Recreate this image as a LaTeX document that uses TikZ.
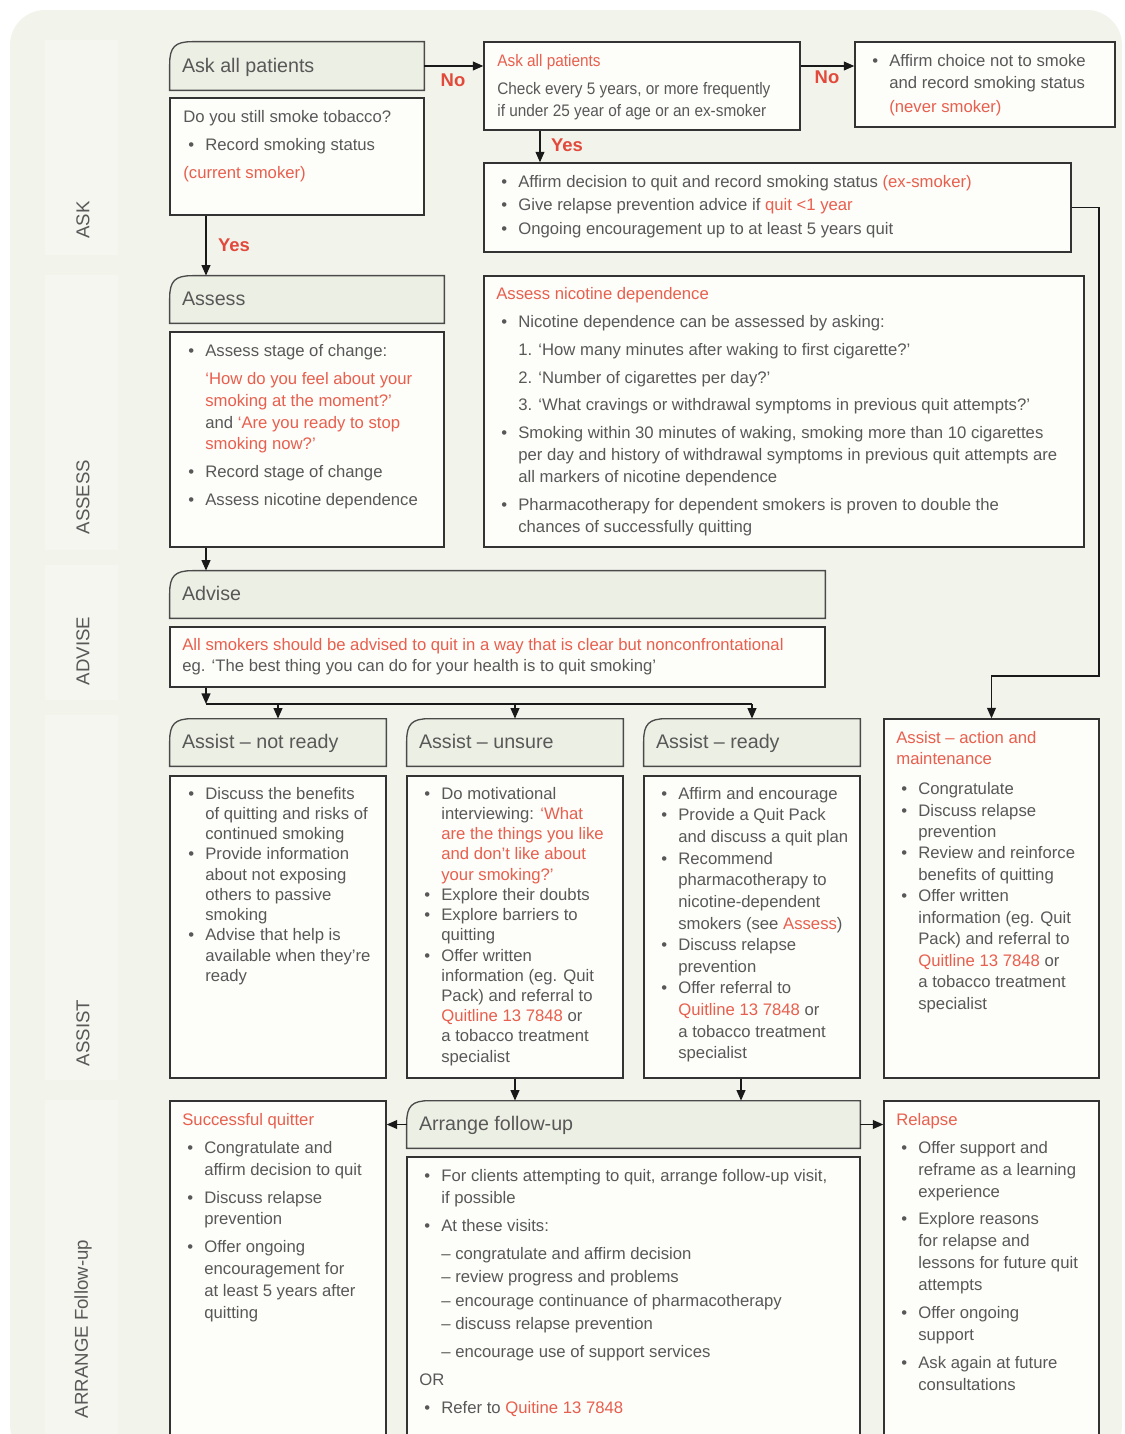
\documentclass[tikz,border=0pt]{standalone}
\usepackage{fontspec}
\setmainfont{Liberation Sans}
\newfontfamily\narrowf{Liberation Sans}[FakeStretch=0.92]
\usetikzlibrary{arrows.meta,fit,calc}

\definecolor{bg}{HTML}{F2F4EC}
\definecolor{band}{HTML}{F4F6EF}
\definecolor{hdrfill}{HTML}{ECEFE3}
\definecolor{boxfill}{HTML}{FDFDF9}
\definecolor{txt}{HTML}{585858}
\definecolor{rd}{HTML}{E85F4E}
\definecolor{rdb}{HTML}{E2493A}
\definecolor{edge}{HTML}{333333}
\definecolor{hedge}{HTML}{4A4A4A}

\newcommand\redt[1]{\textcolor{rd}{#1}}
\newcommand\bulx{\hspace*{0.1cm}\makebox[0.34cm][l]{\textbullet}}
\newcommand\indx{\hspace*{0.44cm}}
\newcommand\firstl{\rule{0pt}{0.34cm}}
\newcommand\hdrshape[1]{%
  \path[hdrdraw] (#1.south west) -- ([yshift=-13pt]#1.north west)
    .. controls ([yshift=-3pt]#1.north west) and ([xshift=3pt]#1.north west) .. ([xshift=13pt]#1.north west)
    -- (#1.north east) -- (#1.south east) -- cycle;}

\begin{document}
\begin{tikzpicture}[x=0.02cm,y=-0.02cm,
  bodybox/.style={draw=edge,fill=boxfill,line width=0.75pt,inner sep=0pt},
  hdrnode/.style={inner sep=0pt},
  hdrdraw/.style={draw=hedge,fill=hdrfill,line width=0.75pt},
  hdrtxt/.style={anchor=base west,inner sep=0pt,text=txt,font=\fontsize{11.2}{13}\selectfont},
  tx/.style={anchor=north west,inner sep=0pt,align=left,text=txt,font=\fontsize{9.5}{12.47}\selectfont},
  txs/.style={anchor=north west,inner sep=0pt,align=left,text=txt,font=\fontsize{9.5}{11.5}\selectfont},
  seclab/.style={rotate=90,text=txt,font=\fontsize{10.6}{12}\selectfont,inner sep=0pt},
  yn/.style={text=rdb,font=\bfseries\fontsize{10.5}{12}\selectfont,inner sep=0pt},
  arr/.style={-{Triangle[length=6pt,width=5pt]},line width=0.9pt,draw=black!90},
  ln/.style={line width=0.9pt,draw=black!90}]

\useasboundingbox (0,0) rectangle (1125,1434);
\clip (0,0) rectangle (1125,1434);
\fill[white] (0,0) rectangle (1125,1434);
\fill[bg,rounded corners=20pt] (10,10) rectangle (1122,1460);

% section bands and labels
\fill[band] (45,40) rectangle (118,255);
\fill[band] (45,275) rectangle (118,550);
\fill[band] (45,565) rectangle (118,700);
\fill[band] (45,715) rectangle (118,1080);
\fill[band] (45,1100) rectangle (118,1440);
\node[seclab] (sASK) at (83,220) {ASK};
\node[seclab] (sASSESS) at (83,497) {ASSESS};
\node[seclab] (sADVISE) at (83,651) {ADVISE};
\node[seclab] (sASSIST) at (83,1033) {ASSIST};
\node[seclab] (sARR) at (83,1329) {ARRANGE Follow-up};

% ---------- boxes ----------
\node[hdrnode,fit={(170,42) (424,90)}] (askhdr) {}; \hdrshape{askhdr}
\node[bodybox,fit={(170,98) (424,215)}] (askbody) {};
\node[bodybox,fit={(484,42) (800,130)}] (ask2) {};
\node[bodybox,fit={(855,42) (1115,127)}] (never) {};
\node[bodybox,fit={(484,163) (1071,252)}] (exsm) {};
\node[hdrnode,fit={(170,276) (444,323)}] (asshdr) {}; \hdrshape{asshdr}
\node[bodybox,fit={(170,332) (444,547)}] (assbody) {};
\node[bodybox,fit={(484,276) (1084,547)}] (nic) {};
\node[hdrnode,fit={(170,571) (825,618)}] (advhdr) {}; \hdrshape{advhdr}
\node[bodybox,fit={(170,627) (825,687)}] (advbody) {};
\node[hdrnode,fit={(170,719) (386,766)}] (nrhdr) {}; \hdrshape{nrhdr}
\node[bodybox,fit={(170,776) (386,1078)}] (nrbody) {};
\node[hdrnode,fit={(407,719) (623,766)}] (unhdr) {}; \hdrshape{unhdr}
\node[bodybox,fit={(407,776) (623,1078)}] (unbody) {};
\node[hdrnode,fit={(644,719) (860,766)}] (rdhdr) {}; \hdrshape{rdhdr}
\node[bodybox,fit={(644,776) (860,1078)}] (rdbody) {};
\node[bodybox,fit={(884,719) (1099,1078)}] (act) {};
\node[hdrnode,fit={(407,1101) (860,1148)}] (arrhdr) {}; \hdrshape{arrhdr}
\node[bodybox,fit={(407,1157) (860,1460)}] (arrbody) {};
\node[bodybox,fit={(170,1101) (386,1460)}] (succ) {};
\node[bodybox,fit={(884,1101) (1099,1460)}] (rel) {};

% ---------- header texts ----------
\node[hdrtxt] (tAskH) at ($(askhdr.west)+(12,6)$) {Ask all patients};
\node[hdrtxt] (tAssH) at ($(asshdr.west)+(12,6)$) {Assess};
\node[hdrtxt] (tAdvH) at ($(advhdr.west)+(12,6)$) {Advise};
\node[hdrtxt] (tNrH) at ($(nrhdr.west)+(12,6)$) {Assist – not ready};
\node[hdrtxt] (tUnH) at ($(unhdr.west)+(12,6)$) {Assist – unsure};
\node[hdrtxt] (tRdH) at ($(rdhdr.west)+(12,6)$) {Assist – ready};
\node[hdrtxt] (tArrH) at ($(arrhdr.west)+(12,6)$) {Arrange follow-up};

% ---------- body texts ----------
\node[tx] (tAsk) at (183,105) {\firstl Do you still smoke tobacco?\\[3.4pt]
\bulx Record smoking status\\[3.4pt]
\redt{(current smoker)}};

\node[tx,font=\narrowf\fontsize{9.5}{12.47}\selectfont] (tAsk2) at (497,49) {\firstl\redt{Ask all patients}\\[3.4pt]
Check every 5 years, or more frequently\\
if under 25 year of age or an ex-smoker};

\node[tx] (tNever) at (867,49) {\firstl\bulx Affirm choice not to smoke\\
\indx and record smoking status\\[1.1pt]
\indx\redt{(never smoker)}};

\node[tx,font=\fontsize{9.5}{13.3}\selectfont] (tEx) at (496,170) {\firstl\bulx Affirm decision to quit and record smoking status \redt{(ex-smoker)}\\
\bulx Give relapse prevention advice if \redt{quit <1 year}\\
\bulx Ongoing encouragement up to at least 5 years quit};

\node[tx] (tAss) at (183,339) {\firstl\bulx Assess stage of change:\\[3.4pt]
\indx\redt{‘How do you feel about your}\\
\indx\redt{smoking at the moment?’}\\
\indx and \redt{‘Are you ready to stop}\\
\indx\redt{smoking now?’}\\[3.4pt]
\bulx Record stage of change\\[3.4pt]
\bulx Assess nicotine dependence};

\node[tx] (tNic) at (496,282) {\firstl\redt{Assess nicotine dependence}\\[3.4pt]
\bulx Nicotine dependence can be assessed by asking:\\[3.4pt]
\indx 1. ‘How many minutes after waking to first cigarette?’\\[3.4pt]
\indx 2. ‘Number of cigarettes per day?’\\[3.4pt]
\indx 3. ‘What cravings or withdrawal symptoms in previous quit attempts?’\\[3.4pt]
\bulx Smoking within 30 minutes of waking, smoking more than 10 cigarettes\\
\indx per day and history of withdrawal symptoms in previous quit attempts are\\
\indx all markers of nicotine dependence\\[3.4pt]
\bulx Pharmacotherapy for dependent smokers is proven to double the\\
\indx chances of successfully quitting};

\node[tx,font=\fontsize{9.5}{11.9}\selectfont] (tAdv) at (182,633) {\firstl\redt{All smokers should be advised to quit in a way that is clear but nonconfrontational}\\
eg. ‘The best thing you can do for your health is to quit smoking’};

\node[txs] (tNr) at (183,782) {\firstl\bulx Discuss the benefits\\
\indx of quitting and risks of\\
\indx continued smoking\\
\bulx Provide information\\
\indx about not exposing\\
\indx others to passive\\
\indx smoking\\
\bulx Advise that help is\\
\indx available when they’re\\
\indx ready};

\node[txs] (tUn) at (419,782) {\firstl\bulx Do motivational\\
\indx interviewing: \redt{‘What}\\
\indx\redt{are the things you like}\\
\indx\redt{and don’t like about}\\
\indx\redt{your smoking?’}\\
\bulx Explore their doubts\\
\bulx Explore barriers to\\
\indx quitting\\
\bulx Offer written\\
\indx information (eg. Quit\\
\indx Pack) and referral to\\
\indx\redt{Quitline 13 7848} or\\
\indx a tobacco treatment\\
\indx specialist};

\node[tx,font=\fontsize{9.5}{12.3}\selectfont] (tRd) at (656,782) {\firstl\bulx Affirm and encourage\\
\bulx Provide a Quit Pack\\
\indx and discuss a quit plan\\
\bulx Recommend\\
\indx pharmacotherapy to\\
\indx nicotine-dependent\\
\indx smokers (see \redt{Assess})\\
\bulx Discuss relapse\\
\indx prevention\\
\bulx Offer referral to\\
\indx\redt{Quitline 13 7848} or\\
\indx a tobacco treatment\\
\indx specialist};

\node[tx,font=\fontsize{9.5}{12.2}\selectfont] (tAct) at (896,726) {\firstl\redt{Assist – action and}\\
\redt{maintenance}\\[4.8pt]
\bulx Congratulate\\
\bulx Discuss relapse\\
\indx prevention\\
\bulx Review and reinforce\\
\indx benefits of quitting\\
\bulx Offer written\\
\indx information (eg. Quit\\
\indx Pack) and referral to\\
\indx\redt{Quitline 13 7848} or\\
\indx a tobacco treatment\\
\indx specialist};

\node[tx] (tSucc) at (182,1108) {\firstl\redt{Successful quitter}\\[3.4pt]
\bulx Congratulate and\\
\indx affirm decision to quit\\[3.4pt]
\bulx Discuss relapse\\
\indx prevention\\[3.4pt]
\bulx Offer ongoing\\
\indx encouragement for\\
\indx at least 5 years after\\
\indx quitting};

\node[tx] (tArr) at (419,1164) {\firstl\bulx For clients attempting to quit, arrange follow-up visit,\\
\indx if possible\\[3.4pt]
\bulx At these visits:\\[3.4pt]
\indx – congratulate and affirm decision\\[1.1pt]
\indx – review progress and problems\\[1.1pt]
\indx – encourage continuance of pharmacotherapy\\[0.6pt]
\indx – discuss relapse prevention\\[3.4pt]
\indx – encourage use of support services\\[3.4pt]
OR\\[3.4pt]
\bulx Refer to \redt{Quitine 13 7848}};

\node[tx] (tRel) at (896,1108) {\firstl\redt{Relapse}\\[3.4pt]
\bulx Offer support and\\
\indx reframe as a learning\\
\indx experience\\[3.4pt]
\bulx Explore reasons\\
\indx for relapse and\\
\indx lessons for future quit\\
\indx attempts\\[3.4pt]
\bulx Offer ongoing\\
\indx support\\[3.4pt]
\bulx Ask again at future\\
\indx consultations};

% ---------- connectors ----------
\coordinate (c206) at (206,0);
\coordinate (c540) at (540,0);
\coordinate (c741) at (741,0);
\coordinate (rt) at (1099,676);
\coordinate (bus) at (206,704);

\draw[arr] (askhdr.east) -- (askhdr.east -| ask2.west);
\node[yn] (no1) at (453,80) {No};
\draw[arr] (askhdr.east -| ask2.east) -- (askhdr.east -| never.west);
\node[yn] (no2) at (827,77) {No};
\draw[arr] (ask2.south -| c540) -- (exsm.north -| c540);
\node[yn] (yes1) at (567,145) {Yes};
\draw[arr] (askbody.south -| c206) -- (asshdr.north -| c206);
\node[yn] (yes2) at (234,245) {Yes};
\draw[arr] (exsm.east) -| (rt) -| (act.north);
\draw[arr] (assbody.south -| c206) -- (advhdr.north -| c206);
\draw[arr] (advbody.south -| c206) -- (bus);
\draw[ln] (bus) -- (bus -| rdhdr.north);
\draw[arr] (bus -| nrhdr.north) -- (nrhdr.north);
\draw[arr] (bus -| unhdr.north) -- (unhdr.north);
\draw[arr] (bus -| rdhdr.north) -- (rdhdr.north);
\draw[arr] (unbody.south) -- (arrhdr.north -| unbody.south);
\draw[arr] (rdbody.south -| c741) -- (arrhdr.north -| c741);
\draw[arr] (arrhdr.west) -- (arrhdr.west -| succ.east);
\draw[arr] (arrhdr.east) -- (arrhdr.east -| rel.west);
\end{tikzpicture}
\end{document}
